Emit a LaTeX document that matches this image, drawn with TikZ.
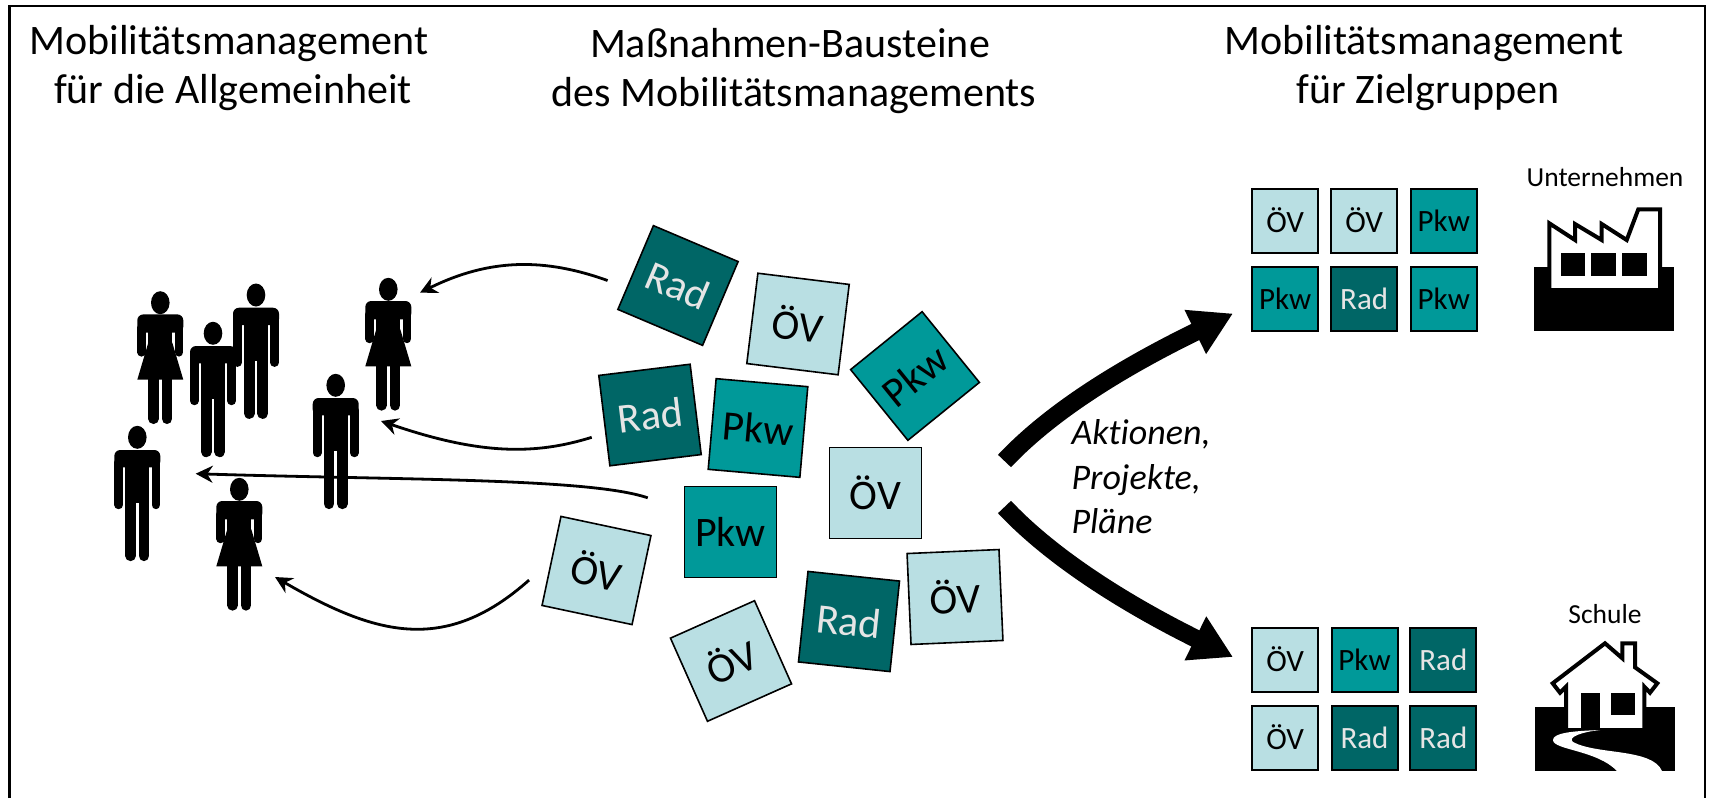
\documentclass[tikz,border=0pt]{standalone}
\usepackage{fontspec}
\setmainfont[Ligatures=CommonOff]{Carlito}
\usetikzlibrary{arrows.meta}
\definecolor{oevcol}{HTML}{B9DFE3}
\definecolor{pkwcol}{HTML}{009999}
\definecolor{radcol}{HTML}{006666}

\begin{document}
\begin{tikzpicture}[
    x=1pt, y=-1pt,
    box/.style={draw=black, line width=1.6pt, minimum width=92pt, minimum height=91pt,
        inner sep=0pt, font=\fontsize{42}{42}\selectfont},
    small/.style={minimum width=66pt, minimum height=64pt, line width=2pt,
        font=\fontsize{31}{31}\selectfont},
    oev/.style={box, fill=oevcol, text=black},
    pkw/.style={box, fill=pkwcol, text=black},
    rad/.style={box, fill=radcol, text=white!90!black},
    title/.style={align=center, font=\fontsize{42}{49}\selectfont},
    place/.style={font=\fontsize{27.5}{28}\selectfont},
    flow/.style={line width=2.8pt, -{Stealth[length=17pt,width=17pt]}},
    bigflow/.style={line width=18pt, -{Triangle[length=42pt,width=46pt]}},
    building/.style={fill=white, draw=black, line width=4pt, miter limit=4},
    man/.pic={
        \fill (0,0) ellipse (9.3 and 11.5);
        \fill[rounded corners=6pt] (-23,12.7) -- (23,12.7) -- (23,30) -- (-23,30) -- cycle;
        \fill (-12,20) rectangle (12,66);
        \draw[line width=8.8pt, line cap=round] (-18.6,25) -- (-18.6,67.5);
        \draw[line width=8.8pt, line cap=round] (18.6,25) -- (18.6,67.5);
        \draw[line width=10.7pt, line cap=round] (-6.7,60) -- (-6.7,118.5);
        \draw[line width=10.7pt, line cap=round] (6.7,60) -- (6.7,118.5);
    },
    woman/.pic={
        \fill (0,0) ellipse (9.3 and 11.5);
        \fill[rounded corners=6pt] (-23,11.7) -- (23,11.7) -- (23,30) -- (-23,30) -- cycle;
        \fill (-12,20) rectangle (12,45);
        \fill (-12,40) -- (12,40) -- (23,77) -- (-23,77) -- cycle;
        \draw[line width=8.8pt, line cap=round] (-18.6,25) -- (-18.6,49.5);
        \draw[line width=8.8pt, line cap=round] (18.6,25) -- (18.6,49.5);
        \draw[line width=10.7pt, line cap=round] (-6.7,70) -- (-6.7,116);
        \draw[line width=10.7pt, line cap=round] (6.7,70) -- (6.7,116);
    }
]
    \useasboundingbox (0,0) rectangle (1711,798);
    \draw[line width=2.2pt] (9.5,798) -- (9.5,6) -- (1705,6) -- (1705,798);

    % titles
    \node[title] (titleA) at (229,68) {Mobilitätsmanagement\\\hspace*{8pt}für die Allgemeinheit};
    \node[title] (titleB) at (790,71) {Maßnahmen-Bausteine\\\hspace*{8pt}des Mobilitätsmanagements};
    \node[title] (titleC) at (1424,68) {Mobilitätsmanagement\\\hspace*{8pt}für Zielgruppen};

    % people
    \pic at (256,295) {man};
    \pic at (160.3,302.7) {woman};
    \pic at (213,333.3) {man};
    \pic at (137.3,437.3) {man};
    \pic at (335.7,385.3) {man};
    \pic at (388.3,289.3) {woman};
    \pic at (239.3,489.3) {woman};

    % loose blocks
    \node[rad, rotate=-23] (radA) at (678,285.5) {Rad};
    \node[oev, rotate=-7] (oevA) at (798,324) {ÖV};
    \node[pkw, rotate=39] (pkwA) at (915,376) {Pkw};
    \node[rad, rotate=7] (radB) at (650,415) {Rad};
    \node[pkw, rotate=-5] (pkwB) at (758,428) {Pkw};
    \node[oev] (oevB) at (875.5,493) {ÖV};
    \node[pkw] (pkwC) at (730.5,532) {Pkw};
    \node[oev, rotate=-12] (oevC) at (596.5,570.5) {ÖV};
    \node[oev, rotate=24] (oevD) at (731,661) {ÖV};
    \node[rad, rotate=-6] (radC) at (849,621.5) {Rad};
    \node[oev, rotate=2.5] (oevE) at (955,597) {ÖV};

    % arrows to the people
    \coordinate (toWomanB) at (420,292.7);
    \coordinate (toManD) at (381,421);
    \coordinate (toManC) at (195.7,473.7);
    \coordinate (toWomanC) at (275,577);
    \draw[flow, shorten <=20pt] (radA.205) .. controls (545,258) and (490,258) .. (toWomanB);
    \draw[flow, shorten <=14pt] (radB.195) .. controls (535,455) and (480,455) .. (toManD);
    \draw[flow, shorten <=38pt] (pkwC.155) .. controls (590,478) and (400,480) .. (toManC);
    \draw[flow, shorten <=29pt] (oevC.west) .. controls (445,655) and (375,635) .. (toWomanC);

    % big arrows
    \coordinate (splitA) at (1004.5,461);
    \coordinate (splitB) at (1004.5,507);
    \coordinate (toFirm) at (1233,313.5);
    \coordinate (toSchool) at (1233,657);
    \draw[bigflow] (splitA) .. controls (1058,404) and (1140,359) .. (toFirm);
    \draw[bigflow] (splitB) .. controls (1058,564) and (1140,611) .. (toSchool);
    \node[align=left, anchor=west, font=\fontsize{36}{44.5}\selectfont\itshape] (means) at (1068,477)
        {Aktionen,\\Projekte,\\Pläne};

    % firm blocks
    \node[oev, small] (fa) at (1285.2,220.5) {ÖV};
    \node[oev, small] (fb) at (1364.2,220.5) {ÖV};
    \node[pkw, small] (fc) at (1443.8,220.5) {Pkw};
    \node[pkw, small] (fd) at (1285.2,298.5) {Pkw};
    \node[rad, small] (fe) at (1364.2,298.5) {Rad};
    \node[pkw, small] (ff) at (1443.8,298.5) {Pkw};

    % school blocks
    \node[oev, small] (sa) at (1285.2,659.5) {ÖV};
    \node[pkw, small] (sb) at (1364.5,659.5) {Pkw};
    \node[rad, small] (sc) at (1443.3,659.5) {Rad};
    \node[oev, small] (sd) at (1285.2,737.5) {ÖV};
    \node[rad, small] (se) at (1364.5,737.5) {Rad};
    \node[rad, small] (sf) at (1443.3,737.5) {Rad};

    % factory
    \node[place] (firm) at (1605,177) {Unternehmen};
    \fill (1534,267) rectangle (1674.3,331);
    \draw[building] (1549.3,223.3) -- (1575,240) -- (1575,224) -- (1601.7,240) -- (1601.7,224)
        -- (1626.7,240) -- (1638.3,209.3) -- (1660,209.3) -- (1660,290) -- (1549.3,290) -- cycle;
    \fill (1561,253.3) rectangle (1585.3,275.7);
    \fill (1591.3,253.3) rectangle (1615.7,275.7);
    \fill (1622.3,253.3) rectangle (1646.7,275.7);

    % school
    \node[place] (school) at (1605,614) {Schule};
    \fill (1535,707) rectangle (1675.3,771);
    \draw[building] (1605,643.3) -- (1622.3,658.3) -- (1622.3,643.3) -- (1635,643.3) -- (1635,667.3)
        -- (1657.3,683.3) -- (1650,692.7) -- (1644.3,686.7) -- (1644.3,730) -- (1566,730)
        -- (1566,686.7) -- (1560,692.7) -- (1552.7,683.3) -- cycle;
    \fill (1581,692.7) rectangle (1600,730);
    \fill (1610.7,692.7) rectangle (1635,715);
    \fill (1563,728) rectangle (1647,733);
    \fill[white] (1600,730) .. controls (1572,731) and (1553,733) .. (1553,740)
        .. controls (1553,750) and (1597,750) .. (1617,771) -- (1662,771)
        .. controls (1652,748) and (1597,755) .. (1573,742)
        .. controls (1567,737) and (1582,732) .. (1600,730) -- cycle;
\end{tikzpicture}
\end{document}
